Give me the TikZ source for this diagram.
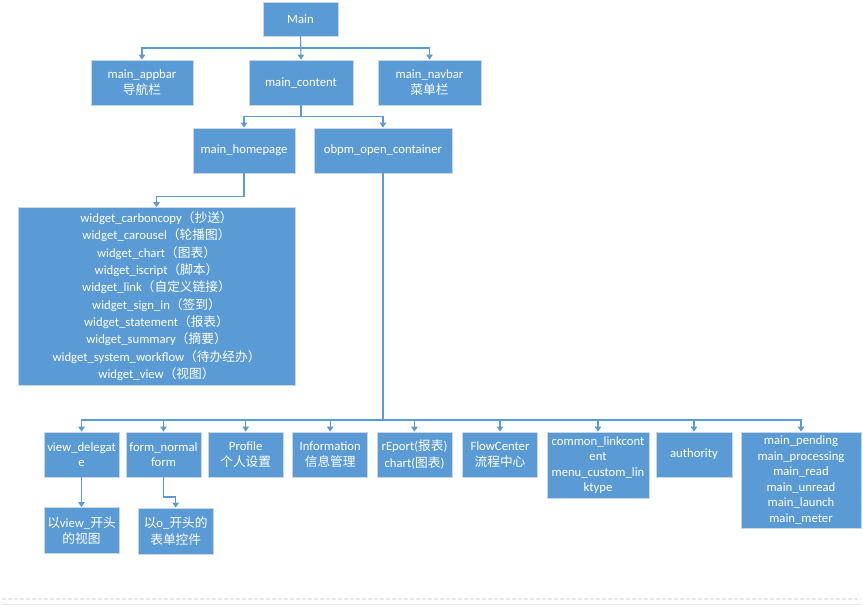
\documentclass[tikz,border=0pt]{standalone}
\usepackage{fontspec}
\setmainfont{Carlito}
\newfontfamily\cjk{Noto Sans CJK SC}
\usetikzlibrary{arrows.meta}
\definecolor{boxblue}{HTML}{5B9BD5}
\definecolor{boxedge}{HTML}{C9D6E3}
\definecolor{pagegrey}{HTML}{E8E8E8}
\newcommand{\zh}[1]{{\cjk #1}}
\tikzset{
  box/.style={fill=boxblue, draw=boxedge, line width=0.8pt, text=white, inner sep=0pt,
    align=center, font=\fontsize{12.7}{15.5}\selectfont},
  mixbox/.style={box, font=\fontsize{12.7}{16.5}\selectfont},
  conn/.style={draw=boxblue, line width=1.1pt},
  arr/.style={conn, -{Triangle[length=5pt,width=6.5pt]}}
}
\begin{document}
\begin{tikzpicture}[x=1pt,y=-1pt]
\useasboundingbox (0,0) rectangle (863,607);
\fill[white] (0,0) rectangle (863,607);
% top level
\node[box, minimum width=75pt, minimum height=34pt] (main) at (300.5,19) {Main};
\node[mixbox, minimum width=102pt, minimum height=45pt] (appbar) at (142,82.5) {main\_appbar\\\zh{导航栏}};
\node[box, minimum width=104pt, minimum height=45pt] (content) at (301,82.5) {main\_content};
\node[mixbox, minimum width=103pt, minimum height=45pt] (navbar) at (429.5,82.5) {main\_navbar\\\zh{菜单栏}};
% second level
\node[box, minimum width=102pt, minimum height=45pt] (home) at (244,150.5) {main\_homepage};
\node[box, minimum width=138pt, minimum height=45pt] (obpm) at (383,150.5) {obpm\_open\_container};
% widgets
\node[box, font=\fontsize{12.7}{17.3}\selectfont, minimum width=277pt, minimum height=177.5pt] (widget) at (156.5,296.2) {%
widget\_carboncopy\zh{（抄送）}\\
widget\_carousel\zh{（轮播图）}\\
widget\_chart\zh{（图表）}\\
widget\_iscript\zh{（脚本）}\\
widget\_link\zh{（自定义链接）}\\
widget\_sign\_in\zh{（签到）}\\
widget\_statement\zh{（报表）}\\
widget\_summary\zh{（摘要）}\\
widget\_system\_workflow\zh{（待办经办）}\\
widget\_view\zh{（视图）}};
% bottom row
\node[box, minimum width=75pt, minimum height=45pt] (view) at (81.5,454.5) {view\_delegat\\e};
\node[box, minimum width=75pt, minimum height=45pt] (form) at (163.5,454.5) {form\_normal\\form};
\node[mixbox, minimum width=75pt, minimum height=45pt] (profile) at (245.7,454.5) {Profile\\\zh{个人设置}};
\node[mixbox, minimum width=75pt, minimum height=45pt] (info) at (330.2,454.5) {Information\\\zh{信息管理}};
\node[mixbox, minimum width=75pt, minimum height=45pt] (report) at (414.5,454.5) {rEport(\zh{报表})\\chart(\zh{图表})};
\node[mixbox, minimum width=75pt, minimum height=45pt] (flow) at (500,454.5) {FlowCenter\\\zh{流程中心}};
\node[box, minimum width=102pt, minimum height=66pt] (common) at (598,465) {common\_linkcont\\ent\\menu\_custom\_lin\\ktype};
\node[box, minimum width=76pt, minimum height=45pt] (auth) at (694,454.5) {authority};
\node[box, minimum width=120pt, minimum height=96pt] (pending) at (801,480) {main\_pending\\main\_processing\\main\_read\\main\_unread\\main\_launch\\main\_meter};
% third row
\node[mixbox, minimum width=75pt, minimum height=46pt] (vsub) at (81.5,530.5) {\zh{以}view\_\zh{开头}\\\zh{的视图}};
\node[mixbox, minimum width=75pt, minimum height=46pt] (osub) at (175.7,531) {\zh{以}o\_\zh{开头的}\\\zh{表单控件}};
% junctions
\coordinate (j1) at (300.5,48);
\coordinate (j2) at (301,116.7);
\coordinate (j3) at (244,196.7);
\coordinate (j4) at (383,420);
\coordinate (j5) at (163.5,497);
% connectors
\draw[arr] (main.south) -- (j1) -| (appbar.north);
\draw[arr] (main.south) -- (content.north);
\draw[arr] (main.south) -- (j1) -| (navbar.north);
\draw[arr] (content.south) -- (j2) -| (home.north);
\draw[arr] (content.south) -- (j2) -| (obpm.north);
\draw[arr] (home.south) -- (j3) -| (widget.north);
\foreach \t in {view,form,profile,info,report,flow,common,auth,pending}
  \draw[arr] (obpm.south) -- (j4) -| (\t.north);
\draw[arr] (view.south) -- (vsub.north);
\draw[arr] (form.south) -- (j5) -| (osub.north);
% page edge lines
\draw[pagegrey, line width=1.5pt, dash pattern=on 4pt off 2pt] (2,599) -- (861,599);
\draw[pagegrey, line width=1pt] (2,604) -- (861,604);
\end{tikzpicture}
\end{document}
